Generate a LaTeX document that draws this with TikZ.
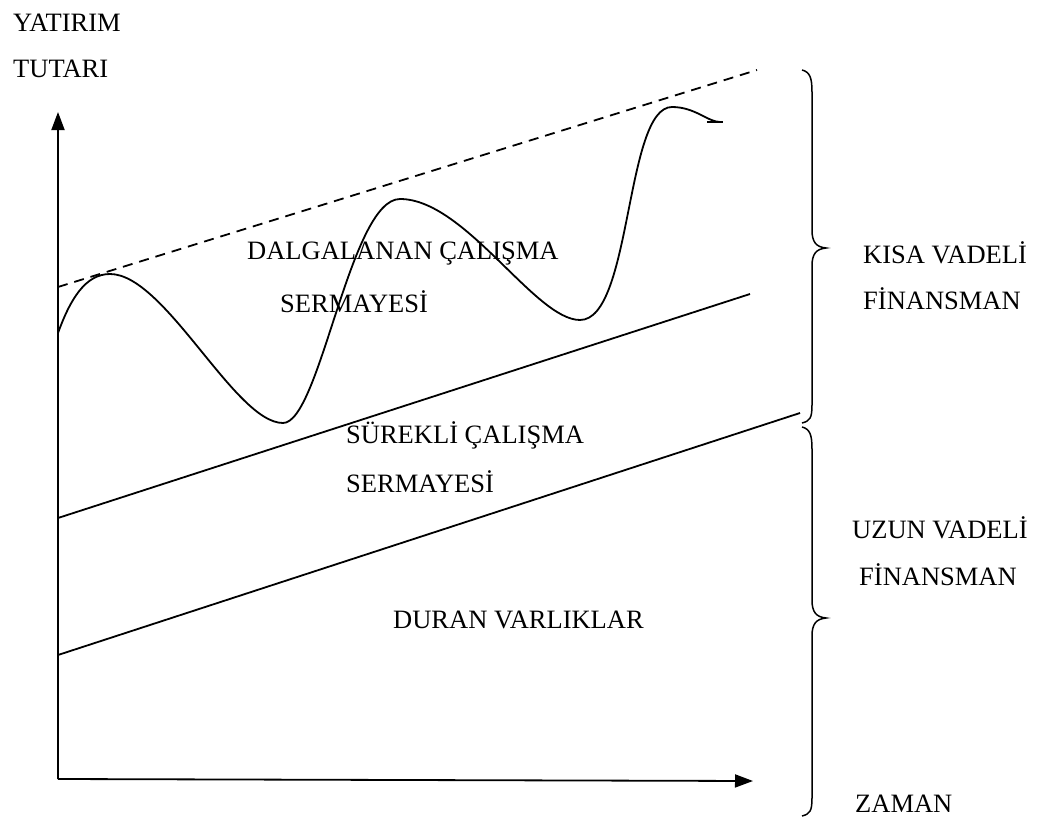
\documentclass[tikz,border=0pt]{standalone}
\usepackage{fontspec}
\setmainfont{Liberation Serif}
\usetikzlibrary{arrows.meta}
\begin{document}
\begin{tikzpicture}[x=1pt,y=-1pt,
  lbl/.style={font=\fontsize{26.5}{32}\selectfont,anchor=west,inner sep=0pt},
  ln/.style={line width=1.8pt},
  axis/.style={line width=1.8pt,-{Triangle[length=18pt,width=13pt]}},
  brc/.style={line width=1.5pt}]
\useasboundingbox (0,0) rectangle (1037,819);
% axes
\coordinate (O) at (58,779);
\coordinate (Ytop) at (58,112);
\coordinate (Xend) at (753,781);
\draw[axis] (O) -- (Ytop);
\draw[axis] (O) -- (Xend);
% lines
\coordinate (d1) at (58,287); \coordinate (d2) at (757,70);
\draw[ln,dash pattern=on 10pt off 7pt] (d1) -- (d2);
\coordinate (s1) at (58,518); \coordinate (s2) at (750,294);
\draw[ln] (s1) -- (s2);
\coordinate (f1) at (58,655); \coordinate (f2) at (800,413);
\draw[ln] (f1) -- (f2);
% wave
\coordinate (w0) at (58,333);
\draw[ln] (w0) .. controls (70,300) and (85,274) .. (110,274)
  .. controls (165,274) and (235,423) .. (283,423)
  .. controls (320,423) and (350,199) .. (400,199)
  .. controls (465,199) and (535,320) .. (580,320)
  .. controls (632,320) and (625,107) .. (672,107)
  .. controls (695,107) and (708,122) .. (720,122);
\draw[ln] (707,122) -- (723,122);
% braces
\draw[brc] (802,70) .. controls (810,72) and (812,78) .. (812,92) -- (812,230)
  .. controls (812,242) and (816,247) .. (826,248)
  .. controls (816,249) and (812,254) .. (812,266) -- (812,405)
  .. controls (812,418) and (810,421) .. (802,423);
\draw[brc] (802,427) .. controls (810,429) and (812,435) .. (812,449) -- (812,600)
  .. controls (812,612) and (816,617) .. (826,618)
  .. controls (816,619) and (812,624) .. (812,636) -- (812,798)
  .. controls (812,811) and (810,814) .. (802,816);
% labels
\node[lbl] (yt1) at (13,23) {YATIRIM};
\node[lbl] (yt2) at (13,69) {TUTARI};
\node[lbl] (dal1) at (247,254) {DALGALANAN ÇALIŞMA};
\node[lbl] (dal2) at (280,302) {SERMAYESİ};
\node[lbl] (sur1) at (346,435) {SÜREKLİ ÇALIŞMA};
\node[lbl] (sur2) at (346,482) {SERMAYESİ};
\node[lbl] (dur) at (393,620) {DURAN VARLIKLAR};
\node[lbl] (k1) at (863,253) {KISA VADELİ};
\node[lbl] (k2) at (863,299) {FİNANSMAN};
\node[lbl] (u1) at (852,528) {UZUN VADELİ};
\node[lbl] (u2) at (859,575) {FİNANSMAN};
\node[lbl] (zam) at (855,804) {ZAMAN};
\end{tikzpicture}
\end{document}
